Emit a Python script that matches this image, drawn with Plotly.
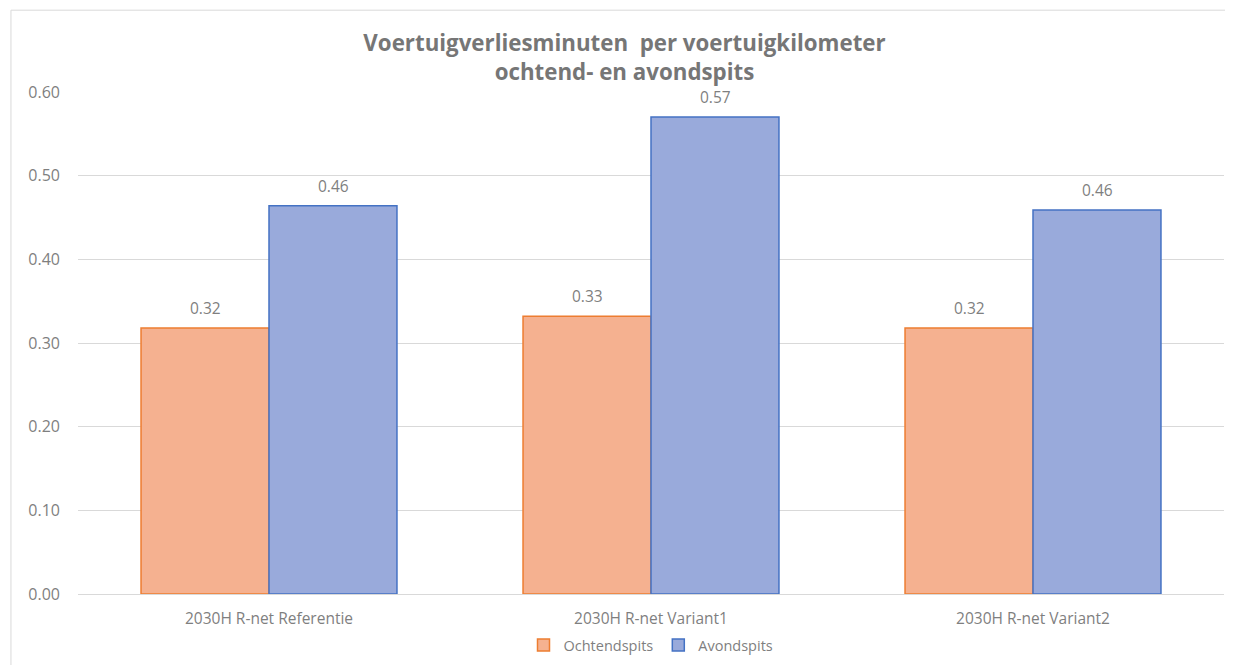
import plotly.graph_objects as go

categories = ["2030H R-net Referentie", "2030H R-net Variant1", "2030H R-net Variant2"]
ochtend = [0.318, 0.332, 0.318]
avond = [0.464, 0.570, 0.459]
ochtend_labels = ["0.32", "0.33", "0.32"]
avond_labels = ["0.46", "0.57", "0.46"]
tick_vals = [0.0, 0.1, 0.2, 0.3, 0.4, 0.5, 0.6]
tick_text = ["0.00", "0.10", "0.20", "0.30", "0.40", "0.50", "0.60"]

FONT = "Open Sans"
GRAY = "#7F7F7F"

fig = go.Figure()
fig.add_trace(go.Bar(
    name="Ochtendspits", x=categories, y=ochtend,
    marker=dict(color="#F5B190", line=dict(color="#ED7D31", width=1.5)),
))
fig.add_trace(go.Bar(
    name="Avondspits", x=categories, y=avond,
    marker=dict(color="#99AADB", line=dict(color="#4472C4", width=1.5)),
))

annotations = []
for cat, v, t in zip(categories, ochtend, ochtend_labels):
    annotations.append(dict(x=cat, y=v, text=t, showarrow=False, xshift=-64, yshift=20,
                            font=dict(family=FONT, size=15.5, color=GRAY)))
for cat, v, t in zip(categories, avond, avond_labels):
    annotations.append(dict(x=cat, y=v, text=t, showarrow=False, xshift=64, yshift=20,
                            font=dict(family=FONT, size=15.5, color=GRAY)))

fig.update_layout(
    width=1233, height=665,
    paper_bgcolor="white", plot_bgcolor="white",
    margin=dict(l=70, r=17, t=84, b=79, autoexpand=False),
    barmode="group", bargap=0.33, bargroupgap=0,
    font=dict(family=FONT, color=GRAY, size=14),
    title=dict(
        text="Voertuigverliesminuten  per voertuigkilometer<br>ochtend- en avondspits",
        x=0.5, xanchor="center", y=0.935, yanchor="top",
        font=dict(family=FONT, size=22.3, color="#767676", weight="bold"),
    ),
    annotations=annotations,
    showlegend=True,
    legend=dict(orientation="h", x=0.5, xanchor="center", y=-0.07, yanchor="top",
                font=dict(family=FONT, size=14.5, color=GRAY), itemwidth=30,
                traceorder="normal"),
    xaxis=dict(showgrid=False, showline=False, ticks="", automargin=False,
               ticklabelstandoff=13, tickfont=dict(size=15.5, color=GRAY)),
    yaxis=dict(range=[0, 0.6], tickvals=tick_vals, ticktext=tick_text, automargin=False,
               showgrid=True, gridcolor="#D9D9D9", gridwidth=1,
               zeroline=True, zerolinecolor="#D9D9D9", zerolinewidth=1,
               showline=False, ticks="", ticklabelstandoff=17,
               tickfont=dict(size=16, color=GRAY)),
    shapes=[
        dict(type="line", xref="paper", yref="paper", x0=-0.0585, x1=1.05, y0=1.163, y1=1.163,
             line=dict(color="#D9D9D9", width=1)),
        dict(type="line", xref="paper", yref="paper", x0=-0.0585, x1=-0.0585, y0=1.163, y1=-0.2,
             line=dict(color="#D9D9D9", width=1)),
    ],
)

fig.write_html("out.html")
